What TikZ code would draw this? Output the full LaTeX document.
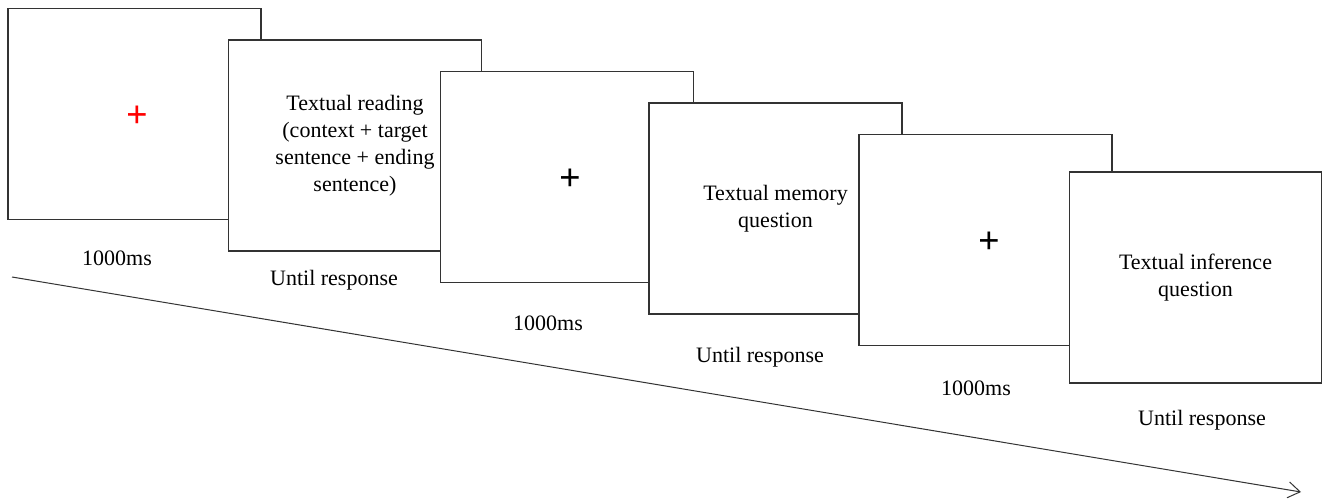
\documentclass[tikz,border=0pt]{standalone}
\usepackage{fontspec}
\setmainfont{Liberation Serif}
\usepackage{tikz}
\usetikzlibrary{arrows.meta, positioning}

\begin{document}
\begin{tikzpicture}[
  x=0.5pt, y=-0.5pt,
  screen/.style={rectangle, draw=black!80, line width=0.75pt, fill=white,
                 minimum width=126.5pt, minimum height=105.5pt, inner sep=0pt,
                 align=center, font=\fontsize{11}{13.5}\selectfont},
  cross/.style={inner sep=0pt, font=\fontsize{19}{19}\selectfont\bfseries},
  dur/.style={anchor=base, font=\fontsize{11}{13.5}\selectfont},
  timeline/.style={-{Straight Barb[length=6pt, width=8pt]}, line width=0.5pt, black!80}
]
  \useasboundingbox (0,0) rectangle (1322,498);

  % time axis
  \coordinate (t0) at (12,277);
  \coordinate (t1) at (1301,492);
  \draw[timeline] (t0) -- (t1);

  % screens
  \node[screen] (b1) at (134.5,114) {};
  \node[cross, text=red] (fix1) at (137,117) {+};
  \node[screen] (b2) at (355,145.5) {Textual reading\\(context + target\\sentence + ending\\sentence)};
  \node[screen] (b3) at (567,177) {};
  \node[cross] (fix2) at (570,180) {+};
  \node[screen] (b4) at (775.5,208.5) {Textual memory\\question};
  \node[screen] (b5) at (985.5,240) {};
  \node[cross] (fix3) at (989,243) {+};
  \node[screen, minimum width=126pt] (b6) at (1195.5,277.5) {Textual inference\\question};

  % durations
  \node[dur] (d1) at (117,265) {1000ms};
  \node[dur] (d2) at (334,285) {Until response};
  \node[dur] (d3) at (548,330) {1000ms};
  \node[dur] (d4) at (760,362) {Until response};
  \node[dur] (d5) at (976,395) {1000ms};
  \node[dur] (d6) at (1202,425) {Until response};
\end{tikzpicture}
\end{document}
